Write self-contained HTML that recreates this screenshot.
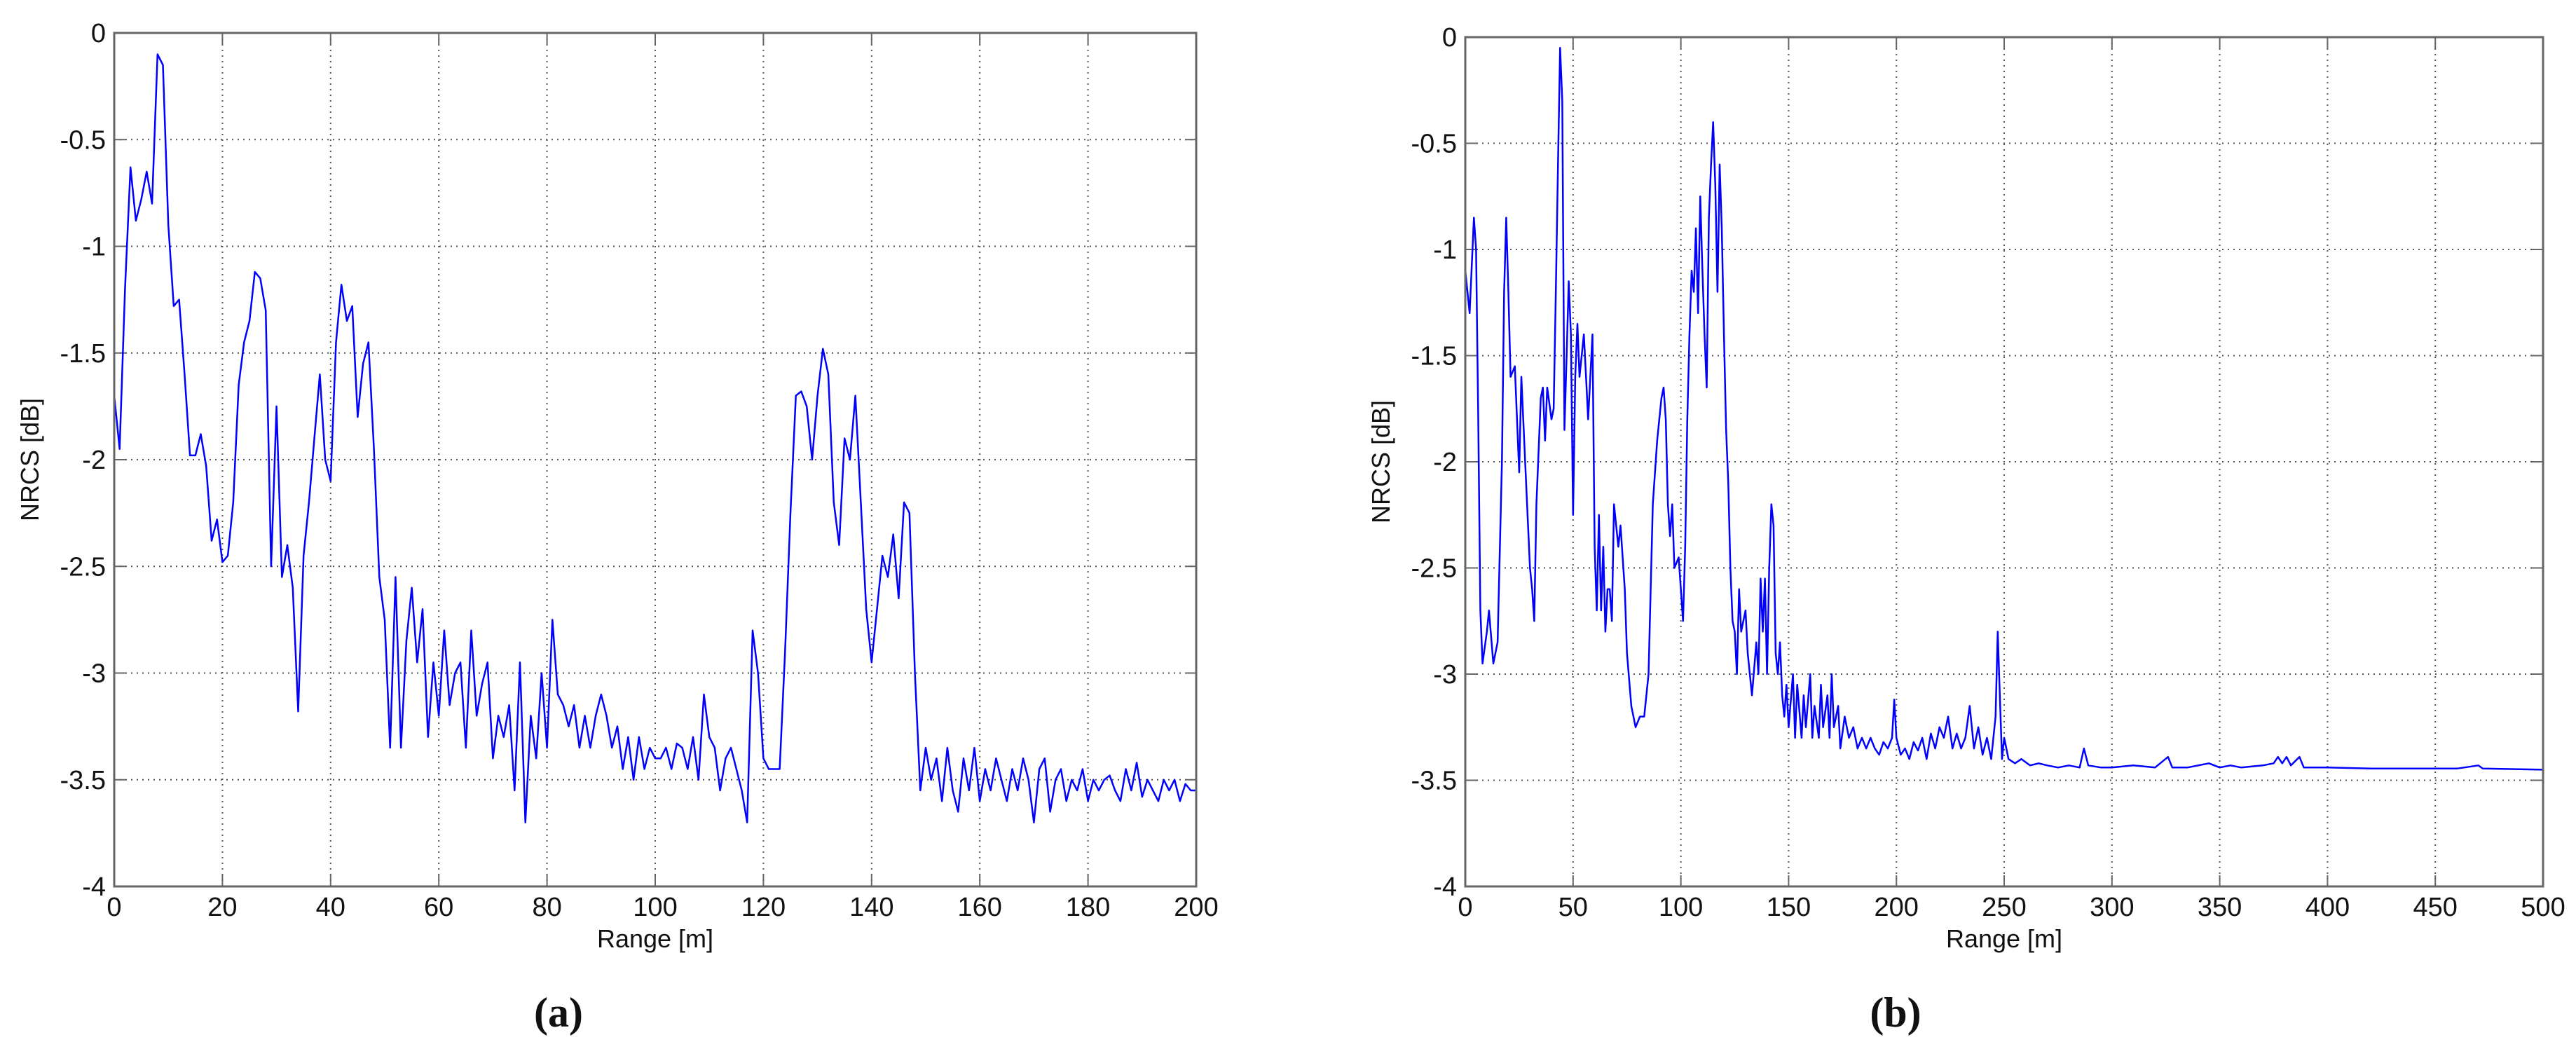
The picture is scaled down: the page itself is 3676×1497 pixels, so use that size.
<!DOCTYPE html>
<html><head><meta charset="utf-8">
<style>
html,body{margin:0;padding:0;background:#fff;}
svg{display:block;}
text{font-family:"Liberation Sans",Arial,sans-serif;fill:#111;}
</style></head>
<body>
<svg id="fig" width="3676" height="1497" viewBox="0 0 3676 1497" xmlns="http://www.w3.org/2000/svg"></svg>
<script>
// ---- Panel (a) data ----
const rangeA = [];
const nrcsA = [-1.7,-1.95,-1.2,-0.63,-0.88,-0.78,-0.65,-0.8,-0.1,-0.15,-0.9,-1.28,-1.25,-1.6,-1.98,-1.98,-1.88,-2.03,-2.38,-2.28,
-2.48,-2.45,-2.2,-1.65,-1.45,-1.35,-1.12,-1.15,-1.3,-2.5,-1.75,-2.55,-2.4,-2.6,-3.18,-2.45,-2.2,-1.9,-1.6,-2.0,
-2.1,-1.45,-1.18,-1.35,-1.28,-1.8,-1.55,-1.45,-1.95,-2.55,-2.75,-3.35,-2.55,-3.35,-2.85,-2.6,-2.95,-2.7,-3.3,-2.95,
-3.2,-2.8,-3.15,-3.0,-2.95,-3.35,-2.8,-3.2,-3.05,-2.95,-3.4,-3.2,-3.3,-3.15,-3.55,-2.95,-3.7,-3.2,-3.4,-3.0,
-3.35,-2.75,-3.1,-3.15,-3.25,-3.15,-3.35,-3.2,-3.35,-3.2,-3.1,-3.2,-3.35,-3.25,-3.45,-3.3,-3.5,-3.3,-3.45,-3.35,
-3.4,-3.4,-3.35,-3.45,-3.33,-3.35,-3.45,-3.3,-3.5,-3.1,-3.3,-3.35,-3.55,-3.4,-3.35,-3.45,-3.55,-3.7,-2.8,-3.0,
-3.4,-3.45,-3.45,-3.45,-2.9,-2.25,-1.7,-1.68,-1.75,-2.0,-1.7,-1.48,-1.6,-2.2,-2.4,-1.9,-2.0,-1.7,-2.2,-2.7,
-2.95,-2.7,-2.45,-2.55,-2.35,-2.65,-2.2,-2.25,-3.0,-3.55,-3.35,-3.5,-3.4,-3.6,-3.35,-3.55,-3.65,-3.4,-3.55,-3.35,
-3.6,-3.45,-3.55,-3.4,-3.5,-3.6,-3.45,-3.55,-3.4,-3.5,-3.7,-3.45,-3.4,-3.65,-3.5,-3.45,-3.6,-3.5,-3.55,-3.45,
-3.6,-3.5,-3.55,-3.5,-3.48,-3.55,-3.6,-3.45,-3.55,-3.42,-3.58,-3.5,-3.55,-3.6,-3.5,-3.55,-3.5,-3.6,-3.52,-3.55,-3.55];
for (let i = 0; i < nrcsA.length; i++) rangeA.push(i * 200 / (nrcsA.length - 1));
const xTicksA = [0,20,40,60,80,100,120,140,160,180,200];
// ---- Panel (b) data ----
const rangeB = [0,2,4,5,6,7,8,10,11,13,15,17,18,19,20,21,23,24,25,26,28,30,31,32,33,35,36,37,38,40,41,42,43,44,45,46,47,48,49,50,51,52,53,55,56,57,59,60,61,62,63,64,65,66,67,68,69,70,71,72,74,75,77,79,81,83,85,87,89,91,92,93,94,95,96,97,99,100,101,102,103,104,105,106,107,108,109,110,111,112,113,114,115,116,117,118,119,120,121,122,123,124,125,126,127,128,130,131,133,135,136,137,138,139,140,141,142,143,144,145,146,147,148,149,150,152,153,154,156,157,158,160,161,162,164,165,166,168,169,170,171,173,174,176,178,180,182,184,186,188,190,192,194,196,198,199,200,202,204,206,208,210,212,214,216,218,220,222,224,226,228,230,232,234,236,238,240,242,244,246,247,248,249,250,252,255,258,262,266,270,275,280,285,287,289,295,300,310,320,326,328,335,340,345,350,355,360,370,375,377,379,381,383,387,389,395,400,420,440,460,470,472,500];
const nrcsB = [-1.1,-1.3,-0.85,-1.0,-1.8,-2.7,-2.95,-2.8,-2.7,-2.95,-2.85,-2.0,-1.2,-0.85,-1.2,-1.6,-1.55,-1.8,-2.05,-1.6,-2.05,-2.5,-2.6,-2.75,-2.2,-1.7,-1.65,-1.9,-1.65,-1.8,-1.75,-1.2,-0.6,-0.05,-0.3,-1.85,-1.5,-1.15,-1.4,-2.25,-1.6,-1.35,-1.6,-1.4,-1.6,-1.8,-1.4,-2.4,-2.7,-2.25,-2.7,-2.4,-2.8,-2.6,-2.6,-2.75,-2.2,-2.3,-2.4,-2.3,-2.6,-2.9,-3.15,-3.25,-3.2,-3.2,-3.0,-2.2,-1.9,-1.7,-1.65,-1.8,-2.2,-2.35,-2.2,-2.5,-2.45,-2.6,-2.75,-2.4,-1.8,-1.4,-1.1,-1.2,-0.9,-1.3,-0.75,-1.1,-1.4,-1.65,-0.85,-0.6,-0.4,-0.7,-1.2,-0.6,-0.9,-1.4,-1.85,-2.1,-2.5,-2.75,-2.8,-3.0,-2.6,-2.8,-2.7,-2.9,-3.1,-2.85,-3.0,-2.55,-2.8,-2.55,-3.0,-2.5,-2.2,-2.3,-2.9,-3.0,-2.85,-3.1,-3.2,-3.05,-3.25,-3.0,-3.3,-3.05,-3.3,-3.1,-3.25,-3.0,-3.3,-3.15,-3.3,-3.05,-3.25,-3.1,-3.3,-3.0,-3.25,-3.15,-3.35,-3.2,-3.3,-3.25,-3.35,-3.3,-3.35,-3.3,-3.35,-3.38,-3.32,-3.35,-3.3,-3.12,-3.3,-3.38,-3.35,-3.4,-3.32,-3.36,-3.3,-3.4,-3.28,-3.35,-3.25,-3.3,-3.2,-3.35,-3.28,-3.35,-3.3,-3.15,-3.35,-3.25,-3.38,-3.3,-3.4,-3.2,-2.8,-3.1,-3.4,-3.3,-3.4,-3.42,-3.4,-3.43,-3.42,-3.43,-3.44,-3.43,-3.44,-3.35,-3.43,-3.44,-3.44,-3.43,-3.44,-3.39,-3.44,-3.44,-3.43,-3.42,-3.44,-3.43,-3.44,-3.43,-3.42,-3.39,-3.42,-3.39,-3.43,-3.39,-3.44,-3.44,-3.44,-3.445,-3.445,-3.445,-3.43,-3.445,-3.45];
const xTicksB = [0,50,100,150,200,250,300,350,400,450,500];
const yTicks = [0,-0.5,-1,-1.5,-2,-2.5,-3,-3.5,-4];
const yTickLabels = ["0","-0.5","-1","-1.5","-2","-2.5","-3","-3.5","-4"];

const NS = "http://www.w3.org/2000/svg";
const svg = document.getElementById('fig');
function mk(tag, attrs, parent) {
  const e = document.createElementNS(NS, tag);
  for (const k in attrs) e.setAttribute(k, attrs[k]);
  (parent || svg).appendChild(e);
  return e;
}
function panel(id, box, xmax, xs, ys, xTicks, caption, capX) {
  const g = mk('g', {});
  
  
  const X = v => box.l + v / xmax * (box.r - box.l);
  const Y = v => box.t + (-v) / 4 * (box.b - box.t);
  mk('rect', {x: box.l, y: box.t, width: box.r - box.l, height: box.b - box.t, fill: '#fff'}, g);
  // grid
  xTicks.forEach((t, i) => {
    if (i > 0 && i < xTicks.length - 1) {
      const l = mk('line', {x1: X(t), x2: X(t), y1: box.t, y2: box.b, stroke: '#555', 'stroke-width': 2, 'stroke-dasharray': '2 6'}, g);
      
      
    }
    mk('line', {x1: X(t), x2: X(t), y1: box.b, y2: box.b - 16, stroke: '#666', 'stroke-width': 2}, g);
    mk('line', {x1: X(t), x2: X(t), y1: box.t, y2: box.t + 16, stroke: '#666', 'stroke-width': 2}, g);
    const tx = mk('text', {x: X(t), y: 1307, 'font-size': 38, 'text-anchor': 'middle'}, g);
    tx.textContent = String(t);
    
    
  });
  yTicks.forEach((t, i) => {
    if (i > 0 && i < yTicks.length - 1) {
      const l = mk('line', {x1: box.l, x2: box.r, y1: Y(t), y2: Y(t), stroke: '#555', 'stroke-width': 2, 'stroke-dasharray': '2 6'}, g);
      
      
    }
    mk('line', {x1: box.l, x2: box.l + 16, y1: Y(t), y2: Y(t), stroke: '#666', 'stroke-width': 2}, g);
    mk('line', {x1: box.r, x2: box.r - 16, y1: Y(t), y2: Y(t), stroke: '#666', 'stroke-width': 2}, g);
    const tx = mk('text', {x: box.l - 12, y: Y(t) + 13, 'font-size': 38, 'text-anchor': 'end'}, g);
    tx.textContent = yTickLabels[i];
    
    
  });
  // series
  let d = '';
  xs.forEach((x, i) => { d += (i ? 'L' : 'M') + X(x).toFixed(1) + ' ' + Y(ys[i]).toFixed(1); });
  const p = mk('path', {d: d, fill: 'none', stroke: '#0000ff', 'stroke-width': 2.5, 'stroke-linejoin': 'round'}, g);
  
  
  // frame
  const fr = mk('rect', {x: box.l, y: box.t, width: box.r - box.l, height: box.b - box.t, fill: 'none', stroke: '#666', 'stroke-width': 3}, g);
  
  
  const xl = mk('text', {x: (box.l + box.r) / 2, y: 1352, 'font-size': 36, 'text-anchor': 'middle'}, g);
  xl.textContent = 'Range [m]';
  
  
  const yx = box.l - 108, yy = (box.t + box.b) / 2;
  const yl = mk('text', {x: yx, y: yy, 'font-size': 36, 'text-anchor': 'middle', transform: 'rotate(-90 ' + yx + ' ' + yy + ')'}, g);
  yl.textContent = 'NRCS [dB]';
  
  
  const cp = mk('text', {x: capX, y: 1465, 'font-size': 60, 'font-weight': 'bold', 'text-anchor': 'middle'}, g);
  cp.setAttribute('style', 'font-family:"Liberation Serif",serif');
  cp.textContent = caption;
  
  
}
panel('a', {l: 163, r: 1707, t: 47, b: 1265}, 200, rangeA, nrcsA, xTicksA, '(a)', 797);
panel('b', {l: 2091, r: 3629, t: 53, b: 1265}, 500, rangeB, nrcsB, xTicksB, '(b)', 2705);
</script>
</body></html>
